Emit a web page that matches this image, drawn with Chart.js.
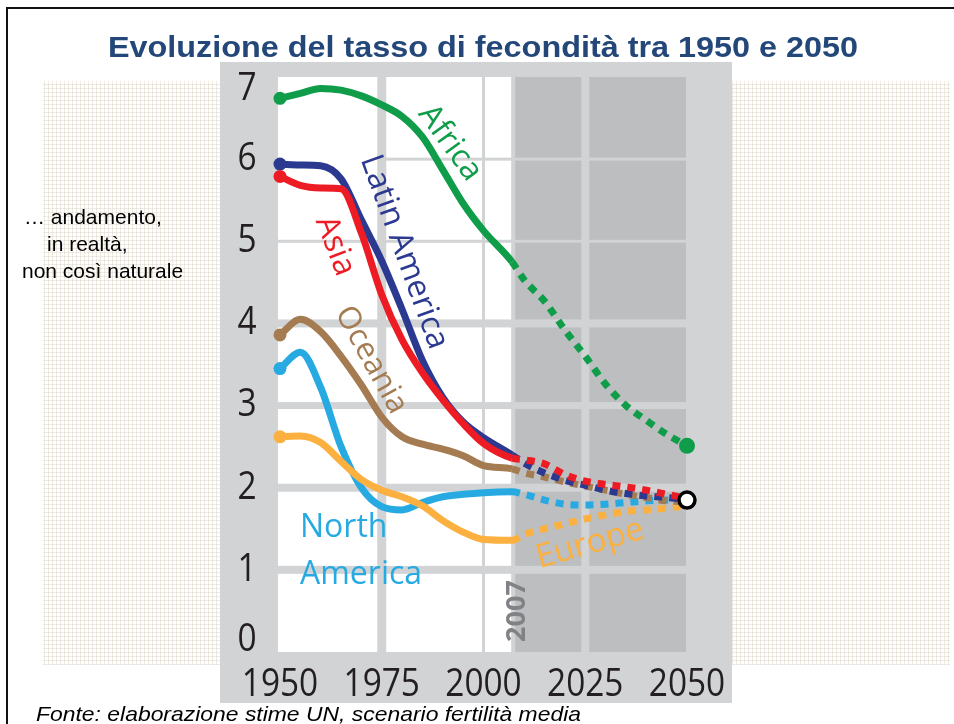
<!DOCTYPE html>
<html>
<head>
<meta charset="utf-8">
<script src="https://cdn.jsdelivr.net/npm/chart.js@4"></script>
<style>
  html, body { margin: 0; padding: 0; background: #fff; }
  #wrap { width: 954px; height: 724px; }
</style>
</head>
<body>
<div id="wrap"><canvas id="chart" width="954" height="724"></canvas></div>
<script>
const years   = [1950, 1955, 1960, 1965, 1970, 1975, 1980, 1985, 1990, 1995, 2000, 2007, 2010, 2015, 2020, 2025, 2030, 2035, 2040, 2045, 2050];
const africa  = [6.74, 6.80, 6.86, 6.84, 6.77, 6.66, 6.52, 6.27, 5.87, 5.46, 5.13, 4.75, 4.53, 4.27, 3.92, 3.60, 3.26, 3.00, 2.82, 2.65, 2.51];
const asia    = [5.79, 5.68, 5.65, 5.64, 5.10, 4.35, 3.80, 3.40, 3.07, 2.78, 2.54, 2.36, 2.34, 2.29, 2.16, 2.08, 2.04, 2.01, 1.97, 1.92, 1.87];
const latAm   = [5.94, 5.93, 5.92, 5.76, 5.26, 4.76, 4.17, 3.55, 3.10, 2.80, 2.61, 2.40, 2.30, 2.18, 2.09, 2.03, 1.97, 1.93, 1.90, 1.88, 1.86];
const oceania = [3.86, 4.05, 3.90, 3.60, 3.25, 2.86, 2.62, 2.53, 2.47, 2.39, 2.27, 2.23, 2.18, 2.13, 2.07, 2.02, 1.97, 1.92, 1.88, 1.84, 1.83];
const europe  = [2.62, 2.63, 2.55, 2.32, 2.10, 1.97, 1.89, 1.78, 1.60, 1.46, 1.37, 1.36, 1.43, 1.50, 1.56, 1.62, 1.67, 1.71, 1.73, 1.75, 1.78];
const northAm = [3.45, 3.65, 3.22, 2.50, 2.00, 1.77, 1.73, 1.82, 1.89, 1.92, 1.94, 1.95, 1.92, 1.85, 1.80, 1.79, 1.80, 1.82, 1.84, 1.85, 1.85];

const forecastFrom = 2007;
const convergeYear = [2050];
const convergeValue = [1.85];

const xTicks = [1950, 1975, 2000, 2025, 2050];
const yTicks = [0, 1, 2, 3, 4, 5, 6, 7];

function pts(vals) {
  return years.map((y, i) => ({ x: y, y: vals[i] }));
}

function series(label, vals, color, width, endDot) {
  return {
    label: label,
    data: pts(vals),
    borderColor: color,
    backgroundColor: color,
    borderWidth: width,
    borderCapStyle: 'butt',
    borderJoinStyle: 'round',
    cubicInterpolationMode: 'monotone',
    clip: false,
    pointRadius: ctx => ctx.dataIndex === 0 ? 6.5 : (endDot && ctx.dataIndex === years.length - 1 ? 8 : 0),
    pointBorderWidth: 0,
    segment: {
      borderDash: ctx => ctx.p0.parsed.x >= forecastFrom ? [8, 7] : undefined
    }
  };
}

function txt(ctx, s, x, y, font, color, angle, align, sx) {
  ctx.save();
  ctx.translate(x, y);
  if (angle) ctx.rotate(angle * Math.PI / 180);
  if (sx) ctx.scale(sx, 1);
  ctx.font = font;
  ctx.fillStyle = color;
  ctx.textAlign = align || 'center';
  ctx.textBaseline = 'middle';
  ctx.fillText(s, 0, 0);
  ctx.restore();
}

function fitText(ctx, s, x, y, font, color, width, align) {
  ctx.save();
  ctx.font = font;
  const w = ctx.measureText(s).width;
  ctx.translate(x, y);
  ctx.scale(width / w, 1);
  ctx.fillStyle = color;
  ctx.textAlign = align || 'center';
  ctx.textBaseline = 'alphabetic';
  ctx.fillText(s, 0, 0);
  ctx.restore();
}

function texture(ctx) {
  const p = document.createElement('canvas');
  p.width = 4; p.height = 4;
  const c = p.getContext('2d');
  c.fillStyle = '#ffffff';
  c.fillRect(0, 0, 4, 4);
  c.fillStyle = 'rgba(214,196,160,0.35)';
  c.fillRect(0, 0, 1, 4);
  c.fillStyle = 'rgba(190,190,190,0.3)';
  c.fillRect(0, 0, 4, 1);
  return ctx.createPattern(p, 'repeat');
}

const hGap = { 1: 8, 2: 8, 3: 7, 4: 8, 5: 3, 6: 3 };

function cells(ctx, xs, ys, cols, color, mergeTop) {
  ctx.fillStyle = color;
  cols.forEach((c, ci) => {
    const l = xs.getPixelForValue(c[0]) + c[2];
    const r = xs.getPixelForValue(c[1]) - c[3];
    let v = 0;
    while (v < 7) {
      let top = v + 1;
      if (mergeTop && ci === 0 && top === 6) top = 7;
      const yt = ys.getPixelForValue(top) + (top < 7 ? hGap[top] / 2 : 0);
      const yb = ys.getPixelForValue(v) - (v > 0 ? hGap[v] / 2 : 0);
      ctx.fillRect(l, yt, r - l, yb - yt);
      v = top;
    }
  });
}

const backdrop = {
  id: 'backdrop',
  beforeDraw(chart) {
    const ctx = chart.ctx;
    const xs = chart.scales.x, ys = chart.scales.y;
    ctx.save();
    ctx.fillStyle = '#ffffff';
    ctx.fillRect(0, 0, 954, 724);

    // textured side zones
    ctx.fillStyle = texture(ctx);
    ctx.fillRect(43, 81, 177, 584);
    ctx.fillRect(732, 81, 218, 584);

    // slide frame
    ctx.fillStyle = '#111';
    ctx.fillRect(6, 7, 948, 2);
    ctx.fillRect(6, 7, 2, 717);

    // chart panel
    ctx.fillStyle = '#d1d3d4';
    ctx.fillRect(220, 62, 512, 641);
    cells(ctx, xs, ys, [[1949.5, 1975, 0, 4.5], [1975, 2000, 4.5, 1.5], [2000, 2006.8, 1.5, 0]], '#ffffff', true);
    cells(ctx, xs, ys, [[2007.8, 2025, 0, 4], [2025, 2050, 4, 1]], '#bcbec0', false);

    // axis labels
    yTicks.forEach(v => {
      const py = Math.min(Math.max(ys.getPixelForValue(v), 89), 640);
      txt(ctx, String(v), 247, py, '38px "Open Sans"', '#231f20', 0, 'center', 0.88);
    });
    xTicks.forEach(yr => {
      txt(ctx, String(yr), xs.getPixelForValue(yr), 685, '38px "Open Sans"', '#231f20', 0, 'center', 0.88);
    });

    // title and notes
    fitText(ctx, 'Evoluzione del tasso di fecondità tra 1950 e 2050', 483, 57, 'bold 30px "Liberation Sans"', '#24477a', 750);
    txt(ctx, '\u2026 andamento,', 24, 218, '21px "Liberation Sans"', '#000', 0, 'left');
    txt(ctx, 'in realtà,', 47, 245, '21px "Liberation Sans"', '#000', 0, 'left');
    txt(ctx, 'non così naturale', 22, 272, '21px "Liberation Sans"', '#000', 0, 'left');
    fitText(ctx, 'Fonte: elaborazione stime UN, scenario fertilità media', 36, 721, 'italic 21px "Liberation Sans"', '#000', 545, 'left');

    txt(ctx, '2007', 517, 611, 'bold 27px "Open Sans"', '#808285', -90);
    ctx.restore();
  },
  afterDatasetsDraw(chart) {
    const ctx = chart.ctx;
    txt(ctx, 'Africa', 450, 143, '32px "Open Sans"', '#0f9d4a', 54);
    txt(ctx, 'Latin America', 404, 252, '32px "Open Sans"', '#2b3990', 70);
    txt(ctx, 'Asia', 335, 246, '32px "Open Sans"', '#ed1c24', 69);
    txt(ctx, 'Oceania', 371, 360, '31px "Open Sans"', '#a57c52', 61);
    txt(ctx, 'North', 300, 528, '32px "Open Sans"', '#27aae1', 0, 'left');
    txt(ctx, 'America', 300, 575, '32px "Open Sans"', '#27aae1', 0, 'left');
    txt(ctx, 'Europe', 590, 544, '33px "Open Sans"', '#fbb040', -16);
  }
};

new Chart(document.getElementById('chart').getContext('2d'), {
  type: 'line',
  data: {
    datasets: [
      {
        type: 'scatter',
        label: 'Convergenza',
        data: convergeYear.map((x, i) => ({ x: x, y: convergeValue[i] })),
        pointRadius: 8,
        pointBorderWidth: 3.5,
        pointBorderColor: '#000',
        pointBackgroundColor: '#fff',
        clip: false,
        order: -1
      },
      series('Africa', africa, '#0f9d4a', 7, true),
      series('Asia', asia, '#ed1c24', 7, false),
      series('Latin America', latAm, '#2b3990', 7, false),
      series('Oceania', oceania, '#a57c52', 7, false),
      series('Europe', europe, '#fbb040', 7, false),
      series('North America', northAm, '#27aae1', 7, false)
    ]
  },
  options: {
    responsive: false,
    animation: false,
    events: [],
    layout: { padding: { left: 280, right: 267, top: 77, bottom: 72 } },
    plugins: { legend: { display: false }, tooltip: { enabled: false } },
    scales: {
      x: { type: 'linear', min: 1950, max: 2050, display: false },
      y: { min: 0, max: 7, display: false }
    }
  },
  plugins: [backdrop]
});
</script>
</body>
</html>
